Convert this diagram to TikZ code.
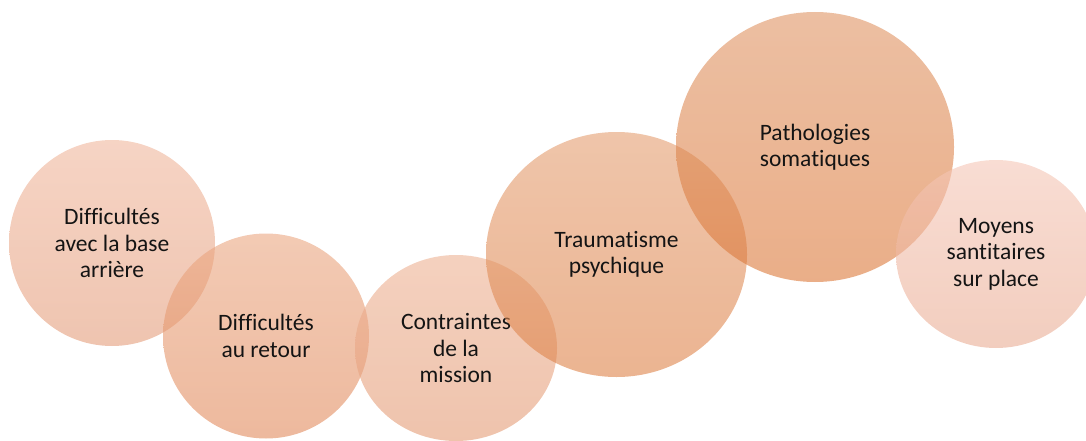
\documentclass[tikz,border=0pt]{standalone}
\usepackage{fontspec}
\setmainfont{Carlito}[Ligatures=NoCommon]
\usetikzlibrary{shapes.geometric}
\definecolor{ca}{RGB}{240,183,157}\definecolor{cab}{RGB}{228,157,123}
\definecolor{cb}{RGB}{235,167,130}\definecolor{cbb}{RGB}{225,138,92}
\definecolor{cc}{RGB}{237,178,148}\definecolor{ccb}{RGB}{228,155,117}
\definecolor{cd}{RGB}{228,158,113}\definecolor{cdb}{RGB}{222,130,72}
\definecolor{ce}{RGB}{223,148,100}\definecolor{ceb}{RGB}{220,120,57}
\definecolor{cf}{RGB}{245,198,182}\definecolor{cfb}{RGB}{233,172,147}
\definecolor{txt}{RGB}{20,20,20}
\tikzset{
  bubble/.style={ellipse, inner sep=0pt, fill opacity=0.6, text opacity=1,
    align=center, text=txt, font=\fontsize{23.5}{26.5}\selectfont},
}
\begin{document}
\begin{tikzpicture}[x=1pt,y=-1pt]
\useasboundingbox (0,0) rectangle (1086,441);
\clip (0,0) rectangle (1086,441);
\node[bubble, minimum width=206pt, minimum height=206pt, top color=ca, bottom color=cab] (c1) at (112,243) {Difficultés\\avec la base\\arrière};
\node[bubble, minimum width=206pt, minimum height=205pt, top color=cb, bottom color=cbb] (c2) at (266,336) {Difficultés\\au retour};
\node[bubble, minimum width=202pt, minimum height=186pt, top color=cc, bottom color=ccb] (c3) at (456,348) {Contraintes\\de la\\mission};
\node[bubble, minimum width=261pt, minimum height=245pt, top color=cd, bottom color=cdb] (c4) at (616.5,254.5) {Traumatisme\\psychique};
\node[bubble, minimum width=278pt, minimum height=270pt, top color=ce, bottom color=ceb] (c5) at (815,147) {Pathologies\\somatiques};
\node[bubble, minimum width=200pt, minimum height=188pt, top color=cf, bottom color=cfb] (c6) at (996,254) {Moyens\\santitaires\\sur place};
\end{tikzpicture}
\end{document}
